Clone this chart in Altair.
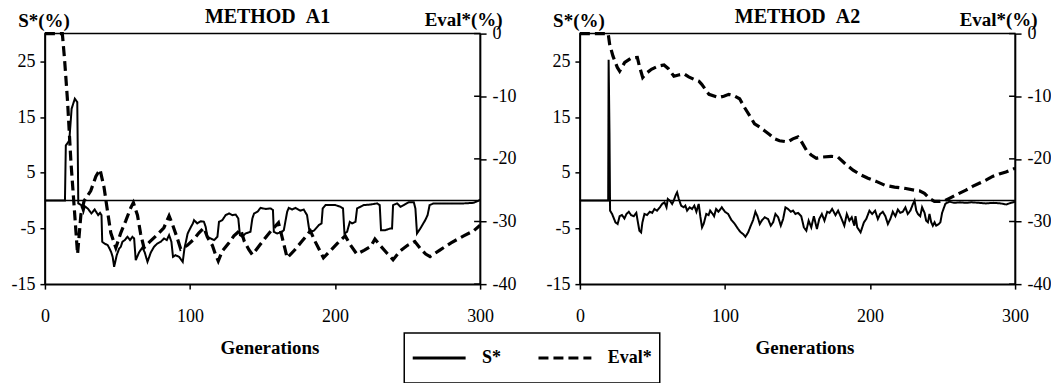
import altair as alt
import pandas as pd

FONT = "Liberation Serif"
W, H = 436, 251

GEN_TICKS = [0, 100, 200, 300]
S_TICKS = [-15, -5, 5, 15, 25]
E_TICKS = [-40, -30, -20, -10, 0]
SERIES = ["S*", "Eval*"]
TITLES = ["METHOD\u00a0\u00a0A1", "METHOD\u00a0\u00a0A2"]

# ---- METHOD A1 ----
A1_S_GEN = [0, 13.8, 14.4, 16.8, 18.4, 20.6, 22.3, 23, 25, 26.5, 27.5, 29.8, 32, 34.3, 36.7, 38, 39, 39.5,
            41, 43.3, 44.5, 45.6, 46.7, 47.7, 49.5, 51.2, 52.3, 53.4, 55, 56.9, 58.7, 60.3, 61.5, 62.6, 64.9,
            67.2, 68.8, 70.7, 73, 75.2, 77.5, 79.8, 82.1, 84, 85.6, 87.2, 88.3, 90, 92.5, 95, 96.2, 98.4,
            100.7, 102, 102.8, 105, 107.4, 109.6, 110.8, 112, 114.3, 116.6, 118.9, 120, 122.3, 124.6, 126.9,
            129.2, 131.5, 133.3, 134.4, 136, 138.3, 141.7, 143, 144.2, 146.5, 148.7, 152.2, 155.6, 157.2,
            157.8, 160.1, 163.5, 164.7, 167, 168.1, 170.4, 172.7, 176.1, 178.4, 180.7, 182.4, 185.4, 188.8,
            190.7, 191.5, 193.4, 196.8, 200.2, 203.7, 205.5, 206.5, 208.3, 210.2, 211.8, 214.1, 215.2, 217.5,
            219.8, 224.4, 229, 230.8, 231.7, 234.7, 238.2, 239.3, 240, 242.8, 245.1, 247.4, 250.8, 254.3,
            255.4, 256.5, 258.8, 262.2, 263.8, 265.2, 268, 272.6, 279.5, 288.7, 295.5, 299, 300]
A1_S_VAL = [0, 0, 9.9, 10.8, 16.5, 18.3, 17.7, -0.5, -0.8, -2, -1, -1.5, -2.3, -1.6, -2.6, -2.2, -2.6, -7.4,
            -7.7, -8, -8.6, -9.2, -10.1, -11.9, -9.8, -8.6, -8.3, -7.4, -7.1, -6.5, -7.1, -6.5, -6.8, -10.7, -9.3,
            -8.4, -9.3, -11, -9.3, -8.3, -7.7, -7.4, -6.8, -7.1, -6.2, -7.4, -10.1, -9.8, -10.1, -11, -8.6, -5.9,
            -4.7, -4.1, -3.5, -4.1, -3.7, -3.8, -4.7, -6.5, -6.8, -7.1, -6.5, -3.8, -3.5, -2.6, -2.3,
            -2.6, -2.5, -3.2, -6.2, -6.5, -5.9, -5.6, -3.2, -2.3, -2, -1.3, -1.5, -1.4, -1.7,
            -5.6, -5.9, -5.6, -5.3, -2, -1.3, -1.6, -1.3, -1.8, -1.6, -2.6, -5.6, -5.4, -4.4,
            -4.1, -1.4, -0.8, -0.8, -0.8, -1.1, -1.4, -5.9, -5.6, -3.8, -4.1, -3.8, -1.4, -1.1,
            -0.8, -0.7, -0.5, -0.8, -5.3, -5.3, -5, -5, -0.8, -0.5, -1.1, -0.8, -0.3, -0.3,
            -1.4, -5.9, -5, -3.5, -2.6, -0.8, -0.5, -0.5, -0.5, -0.5, -0.4, 0, 0.2]

A1_E_GEN = [0, 12, 13.5, 15.6, 17.9, 20.2, 22.5, 24.8, 27, 31.6, 35.1, 38, 40.8, 43.1, 45.4, 48.9, 52.3, 55.7,
            59.2, 61, 63.8, 66, 68.3, 72, 77.5, 82, 85.6, 88, 91, 93.6, 98.2, 102.8, 106.2, 109.6, 112, 115.4,
            117.5, 119.5, 122.3, 126.9, 130.3, 135, 137.5, 140.6, 143, 148, 153, 157, 161, 163.5, 167, 172,
            177, 183, 186.5, 192, 197, 201.6, 207, 210.5, 215, 220, 224.6, 227.5, 231, 236, 240, 245, 250,
            255, 258.8, 262.5, 265.5, 272, 280, 288.7, 295.5, 300]
A1_E_VAL = [0, 0, -4, -10.8, -20.4, -27.8, -35.2, -28.9, -26.7, -25.1, -22.8, -21.7, -24.6, -28.3, -31.8, -34.2,
            -31.8, -29.9, -27.8, -27, -29, -32, -34.2, -33.3, -32.1, -31, -29.1, -30.5, -32.5, -34.4, -33.8,
            -32.8, -31.8, -31, -32.5, -33.8, -35.2, -36.3, -34.7, -33.4, -32.3, -31.3, -33.2, -34.5, -35.3,
            -33.8, -32.3, -31.2, -30.2, -32.5, -35.8, -34.6, -33.2, -31.5, -33.3, -35.8, -34.6, -33.5, -32.3,
            -33.7, -35.2, -34.6, -34, -32.8, -33.8, -35.1, -36.1, -34.7, -33.8, -33.2, -34.3, -35.2, -35.6,
            -34.6, -33.4, -32.3, -31.5, -30.6]

# ---- METHOD A2 ----
A2_S_GEN = [0, 19.5, 19.8, 20.4, 20.8, 22.2, 24.5, 26, 27.4, 29, 30.7, 32.1, 33.7, 35.3, 37.1, 38.9, 39.8, 41,
            42.2, 43.1, 44.5, 46.3, 48.2, 49.8, 51.4, 53.2, 55.1, 56.7, 58.3, 59.7, 60.6, 62, 63.6, 64.7, 65.9,
            67, 68.2, 69.8, 71.6, 72.7, 73.9, 75.7, 77.3, 78.9, 80.3, 81.9, 83, 84.2, 85.3, 87.1, 88.7, 89.8,
            91.6, 92.5, 93.9, 95.5, 97.8, 100, 102.2, 104.5, 106.8, 109.1, 110.9, 112.5, 114.1, 116, 117.8,
            119.4, 121, 122.4, 124, 125.6, 127.4, 129.7, 131.6, 133.2, 134.8, 136.7, 138.5, 140.1, 141.7,
            143.5, 145.4, 146.9, 148.6, 150.4, 152.6, 154.4, 156.1, 157.7, 159.5, 161.3, 163.4, 165, 166.8,
            168.6, 170.5, 172.1, 173.9, 176.2, 178, 180, 182.3, 184, 185.8, 187.4, 189.2, 190, 191.2, 193.5,
            195.8, 197.4, 199.6, 201.5, 203.5, 205.4, 207, 208.8, 210.6, 212.3, 214, 215.7, 217.5, 219.2,
            220.8, 222.6, 224.4, 226, 227.8, 229.6, 230.7, 231.9, 233, 234.6, 235.9, 237.6, 238.7, 239.9,
            241, 242.2, 243.3, 244.5, 245.6, 247.4, 248.5, 249.7, 251.9, 253, 254.8, 258, 262, 266, 270,
            275, 280, 285, 290, 294, 297, 300]
A2_S_VAL = [0, 0, 25.3, 12, -1.8, -2.4, -3.9, -4.2, -2.8, -2.6, -3.2, -2.4, -2, -2.6, -2.8, -2.2, -3.6, -5.4,
            -5.7, -3.9, -2.4, -2.6, -2, -2.2, -1.5, -1.8, -1.2, -0.6, -0.3, -1.2, 0.3, 0, -0.6, 0, 0.9,
            1.5, 0.3, -0.9, -1.2, -0.9, -1.8, -1.2, -1.5, -0.9, -2, -0.6, -2.8, -4.8, -4.2, -2.4, -2.6, -1.8,
            -2.4, -2.8, -1.5, -2, -1.2, -2, -2.4, -3.5, -4.2, -5.1, -5.7, -6, -6.5, -5.7, -4.5,
            -3.5, -2, -2.8, -4.2, -3.5, -3, -3.3, -4.5, -3.9, -2.4, -3, -4.5, -3.3, -1.2,
            -1.5, -2, -1.8, -2.4, -2.2, -2.8, -4.8, -5.4, -3.6, -4.8, -2.8, -5.1, -3.3, -2.4,
            -3.6, -2, -2.2, -1.5, -2.6, -1.8, -3, -4.5, -2.4, -3.6, -3, -4.5, -2.8, -4.8, -5.7,
            -3.9, -3.3, -1.8, -2.4, -1.8, -3.3, -2.4, -2, -2.8, -4.2, -3.3, -2, -2.8, -1.6,
            -2.2, -2, -1.2, -2.4, -1.8, -0.6, 0, -1.8, -2.4, -2.8, -1.2, -2.2, -3.6, -3.9,
            -2.4, -3.9, -4.5, -3.9, -4.5, -4.2, -3.9, -2.2, -0.6, -0.4, -0.2, -0.4, -0.3, -0.4, -0.3,
            -0.4, -0.5, -0.4, -0.5, -0.7, -0.4, -0.2]

A2_E_GEN = [0, 19.5, 20.5, 22.8, 25.8, 27.4, 30.9, 35.4, 39.6, 41, 43.3, 46, 49.3, 53.9, 58, 61, 64.8, 68, 71.7,
            75, 78.6, 82, 84, 86.5, 89, 95.7, 99.2, 102.6, 106, 110.1, 113.5, 117, 120.4, 123.8, 127.3, 130.7,
            134.2, 137.6, 143.4, 146.8, 150.3, 152.6, 156.1, 159.5, 163, 167.6, 173.3, 177.9, 182.5, 188.3,
            194, 198.6, 204.3, 210.1, 216.9, 223.8, 230.7, 234.1, 237.5, 241, 244.4, 247.8, 251.3, 254.7,
            258.1, 261.5, 266.1, 270.7, 275.3, 279.9, 284.5, 289.1, 293.7, 300]
A2_E_VAL = [0, 0, -1.7, -3.6, -5.4, -6, -4.6, -3.9, -3.8, -5.2, -7, -6.3, -5.7, -5.2, -5, -5.6, -6.8, -6.6, -6.4,
            -6.9, -7.3, -7.6, -8.1, -8.9, -9.7, -10.2, -10, -9.7, -9.9, -10.4, -11.8, -13.1, -14.4, -14.9, -15.5,
            -16.1, -16.8, -17.1, -17.3, -16.8, -16.5, -17.2, -18.6, -19.4, -19.9, -19.7, -19.6, -19.7, -20.7,
            -21.8, -22.6, -23.1, -23.6, -24.2, -24.5, -24.7, -25, -25.1, -25.5, -26.3, -26.8, -26.8, -26.7,
            -26.3, -25.9, -25.5, -25, -24.4, -23.9, -23.4, -22.8, -22.4, -22.1, -21.5]

HYPHEN = "replace(datum.label, '\u2212', '-')"

DASH = alt.StrokeDash(
    "series:N",
    scale=alt.Scale(domain=SERIES, range=[[1, 0], [10, 5]]),
    legend=alt.Legend(orient="none", legendX=360, legendY=300, direction="horizontal", title=None),
)


def panel(title, title_dx, s_gen, s_val, e_gen, e_val):
    s_df = pd.DataFrame({"gen": s_gen, "value": s_val, "series": SERIES[0]})
    e_df = pd.DataFrame({"gen": e_gen, "value": e_val, "series": SERIES[1]})

    x = alt.X(
        "gen:Q",
        scale=alt.Scale(domain=[0, 300], nice=False, zero=False),
        axis=alt.Axis(values=GEN_TICKS, title="Generations", tickSize=5, labelPadding=18,
                      titleX=W / 2 + 7, titleY=70, titleBaseline="alphabetic", titleAlign="center",
                      titleFontSize=19, labelFlush=False),
    )
    s_scale = alt.Scale(domain=[-15, 30], nice=False, zero=False)
    s_axis = alt.Axis(values=S_TICKS, orient="left", title="S*(%)", tickSize=5, labelPadding=5,
                      labelExpr=HYPHEN, titleAngle=0, titleX=-1.5, titleY=-7, titleAlign="center",
                      titleBaseline="alphabetic", titleFontSize=19)
    e_scale = alt.Scale(domain=[-40, 0], nice=False, zero=False)
    e_axis = alt.Axis(values=E_TICKS, orient="right", title="Eval*(%)", tickSize=6, labelPadding=6,
                      labelExpr=HYPHEN, titleAngle=0, titleX=-17, titleY=-8, titleAlign="center",
                      titleBaseline="alphabetic", titleFontSize=19)

    s_line = alt.Chart(s_df).mark_line(color="black", strokeWidth=2).encode(
        x=x, y=alt.Y("value:Q", scale=s_scale, axis=s_axis), strokeDash=DASH
    )
    zero = alt.Chart(pd.DataFrame({"value": [0]})).mark_rule(color="black", strokeWidth=1.5).encode(
        y=alt.Y("value:Q", scale=s_scale, axis=s_axis)
    )
    head = alt.Chart(pd.DataFrame({"t": [title]})).mark_text(
        font=FONT, fontSize=20, fontWeight="bold", color="black", align="center", baseline="alphabetic"
    ).encode(x=alt.value(W / 2 + title_dx), y=alt.value(-11), text="t:N")

    e_line = alt.Chart(e_df).mark_line(color="black", strokeWidth=3.2).encode(
        x=x, y=alt.Y("value:Q", scale=e_scale, axis=e_axis), strokeDash=DASH
    )
    e_in = alt.Chart(pd.DataFrame({"value": E_TICKS})).mark_rule(color="black", strokeWidth=1.5).encode(
        x=alt.value(W - 6), x2=alt.value(W), y=alt.Y("value:Q", scale=e_scale, axis=e_axis)
    )

    return alt.layer(
        alt.layer(s_line, zero, head), alt.layer(e_line, e_in)
    ).resolve_scale(y="independent").properties(width=W, height=H)


left = panel(TITLES[0], 5, A1_S_GEN, A1_S_VAL, A1_E_GEN, A1_E_VAL)
right = panel(TITLES[1], 0, A2_S_GEN, A2_S_VAL, A2_E_GEN, A2_E_VAL)

chart = (
    alt.hconcat(left, right, spacing=28)
    .properties(padding={"left": 2, "top": -2.7, "right": -1, "bottom": 0}, background="white")
    .configure_view(stroke="black", strokeWidth=1.5)
    .configure_axis(
        grid=False, domainColor="black", domainWidth=1.5, tickColor="black", tickWidth=1.5,
        labelColor="black", labelFont=FONT, labelFontSize=18, titleFont=FONT, titleFontWeight="bold",
        titleColor="black",
    )
    .configure_legend(
        symbolType="stroke", symbolSize=2809, symbolStrokeWidth=3, symbolStrokeColor="black",
        labelFont=FONT, labelFontSize=18, labelFontWeight="bold", labelColor="black", labelOffset=15,
        columnPadding=35, padding=7, strokeColor="black", strokeWidth=1.5, clipHeight=36,
    )
)

chart.save("out.html", embed_options={"renderer": "svg", "actions": False})
